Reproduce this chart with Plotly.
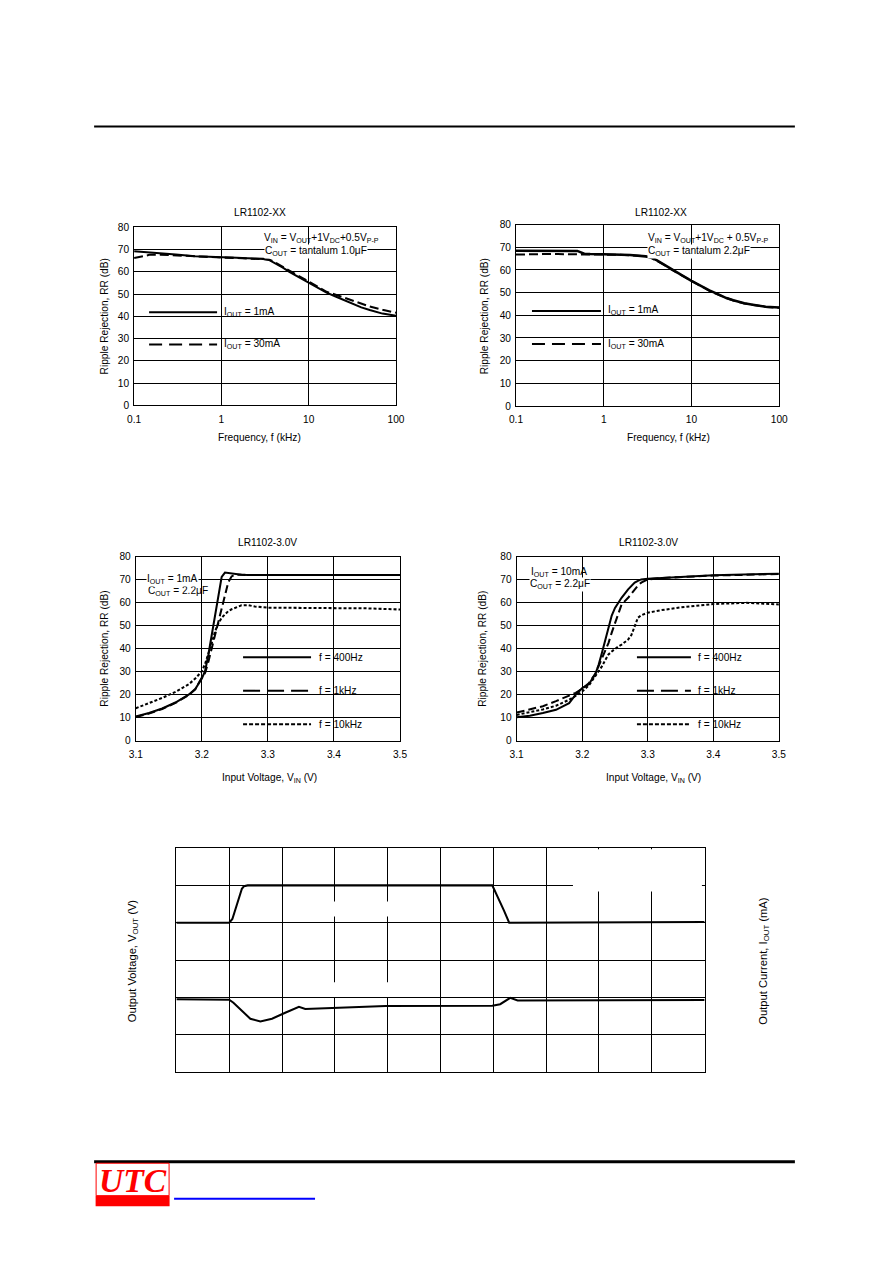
import plotly.graph_objects as go

# The captured picture maps figure pixels as page = (fig + 8) * (892/908, 1263/1279);
# positions below are measured in picture pixels and converted back here.
W, H = 892, 1263
SX, SY = 892 / 908, 1263 / 1279
def px(x): return (x / SX - 8) / W
def py(y): return 1 - (y / SY - 8) / H
K = 1 / SX  # size compensation

FONT = "Liberation Sans, Arial, sans-serif"

# ---------------- data ----------------
# Chart 1: LR1102-XX, Cout = tantalum 1.0uF  (frequency kHz vs RR dB)
freq1 = [0.1, 0.15, 0.2, 0.3, 0.5, 0.7, 1, 1.5, 2, 3, 3.5, 4, 5, 6, 8, 10, 13, 16, 20, 25, 30, 40, 50, 70, 100]
rr1_1mA = [69.2, 68.8, 68.4, 67.8, 67.0, 66.7, 66.5, 66.3, 66.1, 65.8, 65.3, 64.2, 62.0, 60.0, 57.3,
           55.0, 52.7, 50.6, 49.0, 47.4, 46.0, 44.0, 42.8, 41.2, 40.2]
rr1_30mA = [66.2, 67.6, 67.7, 67.3, 66.8, 66.6, 66.4, 66.2, 66.0, 65.8, 65.5, 64.5, 62.3, 60.3, 57.6,
            55.4, 53.0, 51.0, 49.8, 48.5, 47.4, 45.6, 44.4, 42.9, 41.6]

# Chart 2: LR1102-XX, Cout = tantalum 2.2uF
freq2 = [0.1, 0.15, 0.2, 0.3, 0.5, 0.6, 0.7, 1, 1.5, 2, 3, 3.5, 4, 5, 6, 8, 10, 13, 16, 20, 25, 30, 40, 50, 70, 100]
rr2_1mA = [68.5, 68.5, 68.5, 68.5, 68.4, 67.2, 67.0, 66.9, 66.8, 66.6, 66.0, 65.4, 64.3, 62.2, 60.3, 57.4,
           55.2, 52.8, 51.0, 49.3, 47.6, 46.6, 45.3, 44.7, 43.8, 43.4]
rr2_30mA = [66.8, 67.0, 67.0, 67.0, 67.0, 67.0, 67.0, 66.8, 66.7, 66.5, 66.0, 65.3, 64.1, 62.0, 60.0, 57.2,
            55.0, 52.6, 50.8, 49.1, 47.5, 46.5, 45.2, 44.6, 43.7, 43.3]

# Chart 3: LR1102-3.0V, Iout = 1mA (input voltage V vs RR dB)
vin3 = [3.10, 3.12, 3.14, 3.16, 3.18, 3.19, 3.20, 3.205, 3.21, 3.215, 3.22, 3.225, 3.23, 3.235, 3.24,
        3.245, 3.25, 3.26, 3.27, 3.28, 3.30, 3.35, 3.40, 3.45, 3.50]
rr3_400Hz = [10.5, 12.0, 14.0, 16.6, 20.0, 22.5, 27.0, 30.5, 37.6, 46.0, 54.5, 62.9, 71.3, 73.2, 73.0,
             72.8, 72.5, 72.2, 72.1, 72.1, 72.1, 72.1, 72.1, 72.1, 72.1]
rr3_1kHz = [10.3, 11.8, 13.8, 16.4, 19.8, 22.3, 27.5, 29.5, 34.5, 40.2, 46.0, 51.7, 57.4, 63.2, 69.0,
            71.5, 72.2, 72.2, 72.1, 72.1, 72.1, 72.1, 72.1, 72.1, 72.1]
rr3_10kHz = [14.1, 16.2, 18.6, 21.2, 24.5, 27.0, 30.2, 33.5, 37.8, 42.5, 47.6, 51.0, 53.5, 55.2, 56.4,
             57.2, 57.8, 58.9, 59.0, 58.4, 57.9, 57.8, 57.7, 57.6, 57.1]

# Chart 4: LR1102-3.0V, Iout = 10mA
vin4 = [3.10, 3.12, 3.14, 3.16, 3.18, 3.19, 3.20, 3.21, 3.22, 3.225, 3.23, 3.235, 3.24, 3.245, 3.25,
        3.255, 3.26, 3.27, 3.275, 3.28, 3.285, 3.29, 3.30, 3.32, 3.35, 3.40, 3.45, 3.50]
rr4_400Hz = [10.2, 10.8, 12.0, 13.4, 16.3, 20.0, 22.9, 24.5, 29.0, 33.0, 38.2, 44.0, 49.8, 54.5, 57.8,
             60.3, 62.2, 65.9, 67.5, 68.8, 69.6, 70.2, 70.5, 70.9, 71.3, 72.0, 72.3, 72.7]
rr4_1kHz = [12.2, 13.6, 15.0, 17.2, 19.6, 20.8, 22.6, 25.0, 29.1, 32.5, 36.0, 39.0, 42.5, 47.0, 51.3,
            56.0, 59.3, 62.2, 64.0, 65.9, 67.5, 68.8, 70.2, 70.8, 71.2, 71.9, 72.2, 72.6]
rr4_10kHz = [11.2, 12.4, 13.6, 15.2, 17.8, 19.5, 21.4, 24.0, 28.0, 30.0, 32.3, 35.0, 37.5, 38.8, 40.0,
             41.0, 41.8, 44.0, 46.0, 49.8, 53.5, 54.6, 55.7, 56.8, 58.0, 59.5, 60.0, 59.3]

# Chart 5: load transient (scope divisions)
t_iout = [0, 1.0, 1.06, 1.16, 1.24, 1.28, 1.35, 5.98, 6.10, 6.20, 6.30, 6.40, 8.0, 10.0]
iout_div = [4.0, 4.0, 4.10, 4.55, 4.91, 4.98, 5.0, 5.0, 4.65, 4.33, 4.0, 4.0, 4.01, 4.02]
t_vout = [0, 1.0, 1.08, 1.24, 1.40, 1.59, 1.81, 2.06, 2.32, 2.44, 2.70, 3.33, 3.96, 5.0, 5.98, 6.13,
          6.32, 6.46, 6.87, 10.0]
vout_div = [1.95, 1.94, 1.86, 1.64, 1.43, 1.36, 1.43, 1.59, 1.75, 1.69, 1.71, 1.74, 1.77, 1.77, 1.78,
            1.82, 1.99, 1.92, 1.92, 1.93]

freq_ticks = [0.1, 1, 10, 100]
freq_ticktext = ["0.1", "1", "10", "100"]
vin_ticks = [3.1, 3.2, 3.3, 3.4, 3.5]
vin_ticktext = ["3.1", "3.2", "3.3", "3.4", "3.5"]

# ---------------- figure ----------------
fig = go.Figure()

def line(x, y, ax, dash="solid", width=2):
    fig.add_trace(go.Scatter(x=x, y=y, mode="lines", xaxis="x" + ax, yaxis="y" + ax,
                             line=dict(color="black", width=width * K, dash=dash),
                             hoverinfo="skip", showlegend=False))

line(freq1, rr1_1mA, "")
line(freq1, rr1_30mA, "", dash="9px,4px")
line(freq2, rr2_30mA, "2", dash="9px,4px")
line(freq2, rr2_1mA, "2", width=2.5)
line(vin3, rr3_400Hz, "3")
line(vin3, rr3_1kHz, "3", dash="8px,4px")
line(vin3, rr3_10kHz, "3", dash="3px,2px")
line(vin4, rr4_400Hz, "4")
line(vin4, rr4_1kHz, "4", dash="8px,4px")
line(vin4, rr4_10kHz, "4", dash="3px,2px")
line(t_iout, iout_div, "5", width=2)
line(t_vout, vout_div, "5", width=2)

tickfont = dict(family=FONT, size=10 * K, color="black")

def axis(domain, anchor, **kw):
    d = dict(domain=domain, anchor=anchor, showgrid=True, gridcolor="black", gridwidth=1,
             showline=True, mirror=True, linecolor="black", linewidth=1, zeroline=False,
             ticks="", tickfont=tickfont, fixedrange=True)
    d.update(kw)
    return d

layout = dict(
    width=W, height=H, margin=dict(l=0, r=0, t=0, b=0),
    paper_bgcolor="white", plot_bgcolor="white", showlegend=False,
    font=dict(family=FONT, size=10, color="black"),
)

# chart 1
layout["xaxis"] = axis([px(135), px(397)], "y", type="log", range=[-1, 2],
                       tickvals=freq_ticks, ticktext=freq_ticktext, ticklabelstandoff=4)
layout["yaxis"] = axis([py(406.7), py(229.3)], "x", range=[0, 80], dtick=10, ticklabelstandoff=2)
# chart 2
layout["xaxis2"] = axis([px(517), px(780.3)], "y2", type="log", range=[-1, 2],
                        tickvals=freq_ticks, ticktext=freq_ticktext, ticklabelstandoff=4)
layout["yaxis2"] = axis([py(407.3), py(226.7)], "x2", range=[0, 80], dtick=10, ticklabelstandoff=2)
# chart 3
layout["xaxis3"] = axis([px(136.7), px(401)], "y3", range=[3.1, 3.5],
                        tickvals=vin_ticks, ticktext=vin_ticktext, ticklabelstandoff=4)
layout["yaxis3"] = axis([py(740.7), py(557.7)], "x3", range=[0, 80], dtick=10, ticklabelstandoff=2)
# chart 4
layout["xaxis4"] = axis([px(517.7), px(780)], "y4", range=[3.1, 3.5],
                        tickvals=vin_ticks, ticktext=vin_ticktext, ticklabelstandoff=4)
layout["yaxis4"] = axis([py(740.7), py(557.7)], "x4", range=[0, 80], dtick=10, ticklabelstandoff=2)
# chart 5
layout["xaxis5"] = axis([px(177.3), px(705.7)], "y5", range=[0, 10], dtick=1, showticklabels=False)
layout["yaxis5"] = axis([py(1071), py(847.7)], "x5", range=[0, 6], dtick=1, showticklabels=False)

ann = []
def text(x, y, s, xanchor="left", size=10, angle=0, bg=None, yanchor="middle", **kw):
    a = dict(x=px(x), y=py(y), xref="paper", yref="paper", text=s, showarrow=False,
             xanchor=xanchor, yanchor=yanchor, textangle=angle,
             font=dict(family=FONT, size=size * K, color="black"))
    if bg:
        a["bgcolor"] = bg
        a["borderpad"] = 0
    a.update(kw)
    ann.append(a)

# titles
text(260.7, 215, "LR1102-XX", xanchor="center")
text(661.7, 215, "LR1102-XX", xanchor="center")
text(268, 543, "LR1102-3.0V", xanchor="center")
text(650, 543, "LR1102-3.0V", xanchor="center")
# axis titles
text(260.7, 439, "Frequency, f (kHz)", xanchor="center")
text(670, 439, "Frequency, f (kHz)", xanchor="center")
text(270.7, 778, "Input Voltage, V<sub>IN</sub> (V)", xanchor="center")
text(655, 778, "Input Voltage, V<sub>IN</sub> (V)", xanchor="center")
for (xx, yy) in [(105, 318), (485, 318), (105, 649), (483.3, 649)]:
    text(xx, yy, "Ripple Rejection, RR (dB)", xanchor="center", angle=-90)
text(133.3, 960, "Output Voltage, V<sub>OUT</sub> (V)", xanchor="center", angle=-90, size=11)
text(765, 960, "Output Current, I<sub>OUT</sub> (mA)", xanchor="center", angle=-90, size=11)

# condition notes
text(265, 253, "C<sub>OUT</sub> = tantalum 1.0μF", bg="white")
text(262.7, 240.5, "V<sub>IN</sub> = V<sub>OUT</sub>+1V<sub>DC</sub>+0.5V<sub>P-P</sub>")
text(648, 253.5, "C<sub>OUT</sub> = tantalum 2.2μF", bg="white")
text(646.7, 240.5, "V<sub>IN</sub> = V<sub>OUT</sub>+1V<sub>DC</sub> + 0.5V<sub>P-P</sub>")
text(146.7, 592, "C<sub>OUT</sub> = 2.2μF")
text(146.7, 580, "I<sub>OUT</sub> = 1mA", bg="white")
text(530, 585.5, "C<sub>OUT</sub> = 2.2μF", bg="white")
text(530, 573.3, "I<sub>OUT</sub> = 10mA")

# legend texts
text(223, 314, "I<sub>OUT</sub> = 1mA")
text(223, 346, "I<sub>OUT</sub> = 30mA")
text(606.7, 312.7, "I<sub>OUT</sub> = 1mA")
text(606.7, 345.7, "I<sub>OUT</sub> = 30mA")
for xx in (318.3, 696.7):
    text(xx, 657.7, "f = 400Hz")
    text(xx, 691, "f = 1kHz")
    text(xx, 724.3, "f = 10kHz")

# UTC logo text
ann.append(dict(x=px(133.5), y=py(1179), xref="paper", yref="paper", text="UTC", showarrow=False,
                xanchor="center", yanchor="middle",
                font=dict(family="Liberation Serif, Times New Roman, serif", size=33 * K, color="#FF0000",
                          style="italic", weight="bold")))

layout["annotations"] = ann

shapes = []
def hline(x0, x1, y, width=2, dash="solid", color="black"):
    shapes.append(dict(type="line", xref="paper", yref="paper", x0=px(x0), x1=px(x1), y0=py(y), y1=py(y),
                       line=dict(color=color, width=width * K, dash=dash)))
def rect(x0, y0, x1, y1, fill, lc=None, lw=0):
    shapes.append(dict(type="rect", xref="paper", yref="paper", x0=px(x0), x1=px(x1), y0=py(y0), y1=py(y1),
                       fillcolor=fill, line=dict(color=lc or fill, width=lw), layer="above"))

# legend samples
hline(150, 218, 314)
hline(150, 218, 346, dash="13px,7px")
hline(533, 602, 312.7)
hline(533, 602, 345.7, dash="13px,7px")
hline(244, 312, 657.7)
hline(244, 312, 691, dash="17px,7px")
hline(244, 312, 724.3, dash="4px,2px")
hline(638, 692, 657.7)
hline(638, 692, 691, dash="17px,7px")
hline(638, 692, 724.3, dash="4px,2px")

# page rules
hline(95, 796, 129, width=2)
hline(95, 796, 1160.3, width=3)

# scope screenshot gaps (white blank areas)
rect(574, 849, 703, 891, "white")
rect(330, 901, 395, 916, "white")
rect(330, 981.5, 395, 996, "white")

# logo boxes
rect(97, 1161.7, 170, 1194, "white", lc="#FF0000", lw=1)
rect(96.5, 1194, 170.5, 1204.5, "#FF0000")
# link underline
hline(175, 316, 1197, width=2, color="#0000FF")

layout["shapes"] = shapes
fig.update_layout(**layout)
fig.write_html("out.html")
